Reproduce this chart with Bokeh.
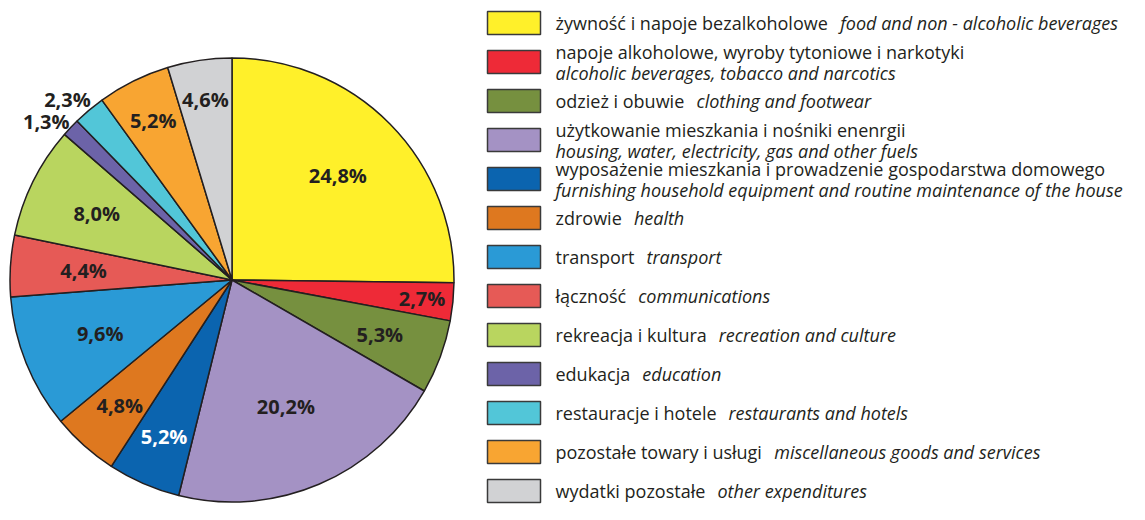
import math
from bokeh.plotting import figure
from bokeh.models import Range1d, ColumnDataSource
from bokeh.core.properties import value
from bokeh.embed import file_html
from bokeh.resources import INLINE

# ---------------- data ----------------
pl_names = [
    "żywność i napoje bezalkoholowe",
    "napoje alkoholowe, wyroby tytoniowe i narkotyki",
    "odzież i obuwie",
    "użytkowanie mieszkania i nośniki enenrgii",
    "wyposażenie mieszkania i prowadzenie gospodarstwa domowego",
    "zdrowie",
    "transport",
    "łączność",
    "rekreacja i kultura",
    "edukacja",
    "restauracje i hotele",
    "pozostałe towary i usługi",
    "wydatki pozostałe",
]
en_names = [
    "food and non - alcoholic beverages",
    "alcoholic beverages, tobacco and narcotics",
    "clothing and footwear",
    "housing, water, electricity, gas and other fuels",
    "furnishing household equipment and routine maintenance of the house",
    "health",
    "transport",
    "communications",
    "recreation and culture",
    "education",
    "restaurants and hotels",
    "miscellaneous goods and services",
    "other expenditures",
]
two_line = [False, True, False, True, True, False, False, False, False, False, False, False, False]
shares = [24.8, 2.7, 5.3, 20.2, 5.2, 4.8, 9.6, 4.4, 8.0, 1.3, 2.3, 5.2, 4.6]
share_labels = ["24,8%", "2,7%", "5,3%", "20,2%", "5,2%", "4,8%", "9,6%",
                "4,4%", "8,0%", "1,3%", "2,3%", "5,2%", "4,6%"]
colors = ["#FFF02A", "#EE2A37", "#76903F", "#A492C4", "#0B64AF", "#DE781F",
          "#2A9AD6", "#E65A56", "#B9D55F", "#6C63A8", "#52C6D8", "#F8A532", "#D1D2D4"]
label_colors = ["#231F20"] * 4 + ["#FFFFFF"] + ["#231F20"] * 8
label_r = [0.67, 0.86, 0.71, 0.62, 0.77, 0.76, 0.64, 0.67, 0.68, 1.10, 1.10, 0.80, 0.82]
label_da = [0, 0, 0, 0, 0, 0, 0, 0, 0, 0.05, 0.04, 0, 0]  # small angular nudges (rad)

# ---------------- layout ----------------
W, H = 1129, 504
PAGE_H = 520
CX, CY = 231.5, PAGE_H - 279.5
R = 222
FONT = "Open Sans"
LEG_FS = 18
LAB_FS = 20

# approximate Open Sans regular advance widths (units per em 2048)
_w = {' ': 532, 'a': 1139, 'b': 1255, 'c': 975, 'd': 1255, 'e': 1149, 'f': 694,
      'g': 1122, 'h': 1257, 'i': 518, 'j': 518, 'k': 1075, 'l': 518, 'm': 1905,
      'n': 1257, 'o': 1237, 'p': 1255, 'q': 1255, 'r': 836, 's': 977, 't': 723,
      'u': 1257, 'v': 1026, 'w': 1593, 'x': 1073, 'y': 1028, 'z': 965, ',': 511, '-': 659}
_map = {'ż': 'z', 'ź': 'z', 'ś': 's', 'ć': 'c', 'ą': 'a', 'ę': 'e', 'ń': 'n', 'ó': 'o', 'ł': 'l'}


def text_width(s, size):
    return sum(_w.get(_map.get(ch, ch), 1100) for ch in s) / 2048 * size


p = figure(width=W, height=H, output_backend="svg", toolbar_location=None,
           x_range=Range1d(0, W), y_range=Range1d(PAGE_H - H, PAGE_H),
           min_border=0)
p.axis.visible = False
p.grid.visible = False
p.outline_line_color = None
p.background_fill_color = "white"

total = sum(shares)
starts, ends, lx, ly = [], [], [], []
cum = 0.0
for i, s in enumerate(shares):
    c0 = cum / total
    c1 = (cum + s) / total
    cum += s
    starts.append(math.pi / 2 - 2 * math.pi * c1)
    ends.append(math.pi / 2 - 2 * math.pi * c0)
    mid = math.pi / 2 - 2 * math.pi * (c0 + c1) / 2 + label_da[i]
    lx.append(CX + label_r[i] * R * math.cos(mid))
    ly.append(CY + label_r[i] * R * math.sin(mid))

src = ColumnDataSource(dict(start=starts, end=ends, color=colors,
                            lx=lx, ly=ly, lab=share_labels, lcol=label_colors))
p.wedge(x=CX, y=CY, radius=R, start_angle="start", end_angle="end",
        fill_color="color", line_color="#231F20", line_width=1.5, source=src)
p.text(x="lx", y="ly", text="lab", text_color="lcol", source=src,
       text_font=value(FONT), text_font_style="bold", text_font_size=f"{LAB_FS}px",
       text_align="center", text_baseline="middle")

# legend
row_y0, row_step = 22.5, 39.0
sw_x, sw_w, sw_h = 513.5, 53, 23
tx = 555
rows_y = [PAGE_H - (row_y0 + row_step * i) for i in range(len(pl_names))]
p.rect(x=[sw_x] * len(rows_y), y=rows_y, width=sw_w, height=sw_h,
       fill_color=colors, line_color="#3A3A3A", line_width=1.5)

pl_x, pl_y, en_x, en_y = [], [], [], []
for i, yc in enumerate(rows_y):
    if two_line[i]:
        pl_x.append(tx); pl_y.append(yc + 10)
        en_x.append(tx); en_y.append(yc - 11)
    else:
        pl_x.append(tx); pl_y.append(yc)
        en_x.append(tx + text_width(pl_names[i], LEG_FS) + 12); en_y.append(yc)

p.text(x=pl_x, y=pl_y, text=pl_names, text_font=value(FONT), text_font_size=f"{LEG_FS}px",
       text_color="#231F20", text_baseline="middle", text_align="left")
p.text(x=en_x, y=en_y, text=en_names, text_font=value(FONT), text_font_size=f"{LEG_FS}px",
       text_font_style="italic", text_color="#231F20", text_baseline="middle", text_align="left")

open("out.html", "w").write(file_html(p, INLINE))
